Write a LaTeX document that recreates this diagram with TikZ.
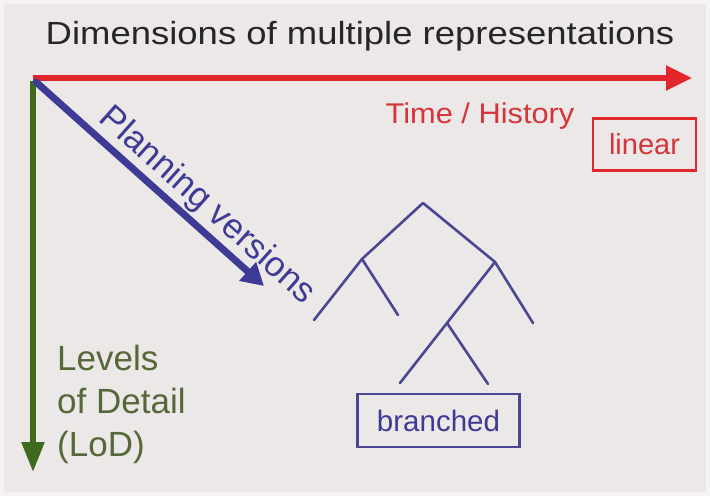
\documentclass[tikz,border=0pt]{standalone}
\usepackage{fontspec}
\setmainfont{Liberation Sans}
\usetikzlibrary{arrows.meta}
\definecolor{bgc}{HTML}{ECE8E7}
\definecolor{redc}{HTML}{E3262C}
\definecolor{redt}{HTML}{D5343A}
\definecolor{greenc}{HTML}{3E6A1E}
\definecolor{greent}{HTML}{55683A}
\definecolor{bluec}{HTML}{3D3B95}
\definecolor{treec}{HTML}{4B4792}
\definecolor{titlec}{HTML}{262626}
\tikzset{
  axis/.style={line width=5.5pt},
  treeline/.style={treec, line width=2.6pt, line cap=round, line join=round},
  tagbox/.style={draw, line width=2.5pt, inner sep=0pt, minimum height=#1},
  lbl/.style={inner sep=0pt},
}
\begin{document}
\begin{tikzpicture}[x=1pt,y=-1pt]
\useasboundingbox (0,0) rectangle (710,496);
\fill[white!50!bgc] (0,0) rectangle (710,496);
\fill[bgc] (4,4) rectangle (706,492);
% title
\node[lbl, anchor=base, font=\fontsize{32}{36}\selectfont, text=titlec] (title) at (360,44) {\scalebox{1.14}[1]{Dimensions of multiple representations}};
% axes
\coordinate (o) at (33,78);
\coordinate (tEnd) at (692,78);
\coordinate (lEnd) at (33,472);
\coordinate (bStart) at (36,82);
\coordinate (bEnd) at (264,286);
\draw[axis, redc, -{Triangle[length=26pt,width=24pt]}] (o) -- (tEnd);
\draw[axis, greenc, -{Triangle[length=30pt,width=22pt]}] ([yshift=-2.75pt]o) -- (lEnd);
\draw[line width=7pt, bluec, line cap=round, -{Triangle[length=22pt,width=24pt]}] (bStart) -- (bEnd);
% labels
\node[lbl, anchor=base, font=\fontsize{28.5}{34}\selectfont, text=redt] (time) at (480,123) {\scalebox{1.08}[1]{Time / History}};
\node[lbl, font=\fontsize{35}{40}\selectfont, text=bluec, rotate=-41.8] (plan) at (207,206) {Planning versions};
\node[lbl, font=\fontsize{35}{43}\selectfont, text=greent, anchor=north west, align=left] (lod) at (57,345) {Levels\\of Detail\\(LoD)};
% linear box
\node[tagbox=52pt, redc, minimum width=103pt, text=redt, font=\fontsize{29}{32}\selectfont] (lin) at (644.5,144.5) {linear};
% tree
\coordinate (root) at (423,203);
\coordinate (L) at (362,259);
\coordinate (R) at (495,262);
\coordinate (LL) at (314,320);
\coordinate (LR) at (398,315);
\coordinate (RR) at (533,323);
\coordinate (RL) at (447,323);
\coordinate (RLL) at (400,383);
\coordinate (RLR) at (488,384);
\draw[treeline] (LL) -- (L) -- (root) -- (R) -- (RR);
\draw[treeline] (L) -- (LR);
\draw[treeline] (R) -- (RL) -- (RLL);
\draw[treeline] (RL) -- (RLR);
% branched box
\node[tagbox=53pt, treec, minimum width=162pt, text=bluec, font=\fontsize{29.5}{32}\selectfont] (br) at (438.5,420.5) {branched};
\end{tikzpicture}
\end{document}
